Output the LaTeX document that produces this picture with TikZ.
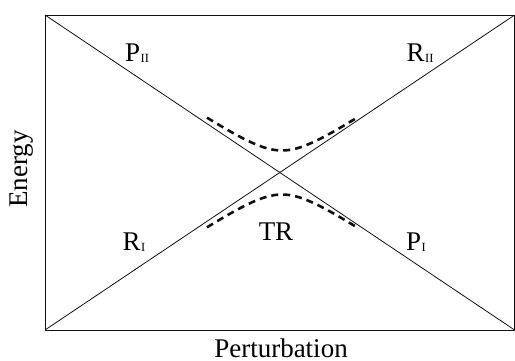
\documentclass[tikz,border=0pt]{standalone}
\usepackage{fontspec}
\setmainfont{Liberation Serif}
\usepackage{xcolor}
\definecolor{inkblack}{HTML}{111111}

% level label with a small roman subscript
\newcommand{\lvl}[2]{#1\kern0.5pt\raisebox{-1.5pt}{\fontsize{12.5}{12.5}\selectfont #2}}

\begin{document}
\begin{tikzpicture}[x=1pt,y=1pt,
    axisline/.style={inkblack,line width=0.8pt},
    crossline/.style={inkblack,line width=0.8pt},
    gapcurve/.style={inkblack,line width=2.6pt,dash pattern=on 7pt off 5pt},
    lbl/.style={font=\fontsize{27}{31}\selectfont,inner sep=0pt}]
  % Frame geometry (picture is 515 x 360).
  \def\xl{45}
  \def\xr{514.6}
  \def\yb{30}
  \def\yt{345}
  \def\gap{22}
  \useasboundingbox (0,0) rectangle (515,360);

  % Corners of the frame.
  \coordinate (bl) at (\xl,\yb);
  \coordinate (br) at (\xr,\yb);
  \coordinate (tl) at (\xl,\yt);
  \coordinate (tr) at (\xr,\yt);
  \draw[axisline] (bl) rectangle (tr);

  % Crossing diabatic lines.
  \draw[crossline] (tl) -- (br);
  \draw[crossline] (bl) -- (tr);

  % Avoided-crossing curves (dashed).
  \draw[gapcurve] plot[domain=-75:75,samples=41,smooth]
    ({282+\x},{187.5+sqrt(\gap*\gap+(0.67*\x)*(0.67*\x))});
  \draw[gapcurve] plot[domain=-75:73,samples=41,smooth]
    ({282+\x},{187.5-sqrt(\gap*\gap+(0.67*\x)*(0.67*\x))});

  % State labels.
  \node[lbl] (p2) at (137,307) {\lvl{P}{II}};
  \node[lbl] (r2) at (420,307) {\lvl{R}{II}};
  \node[lbl] (r1) at (134,118) {\lvl{R}{I}};
  \node[lbl] (p1) at (416,118) {\lvl{P}{I}};
  \node[lbl] (ts) at (276,128) {TR};

  % Axis titles.
  \node[lbl,rotate=90] (ylab) at (22,191) {Energy};
  \node[lbl,anchor=base] (xlab) at (281,3) {Perturbation};
\end{tikzpicture}
\end{document}
